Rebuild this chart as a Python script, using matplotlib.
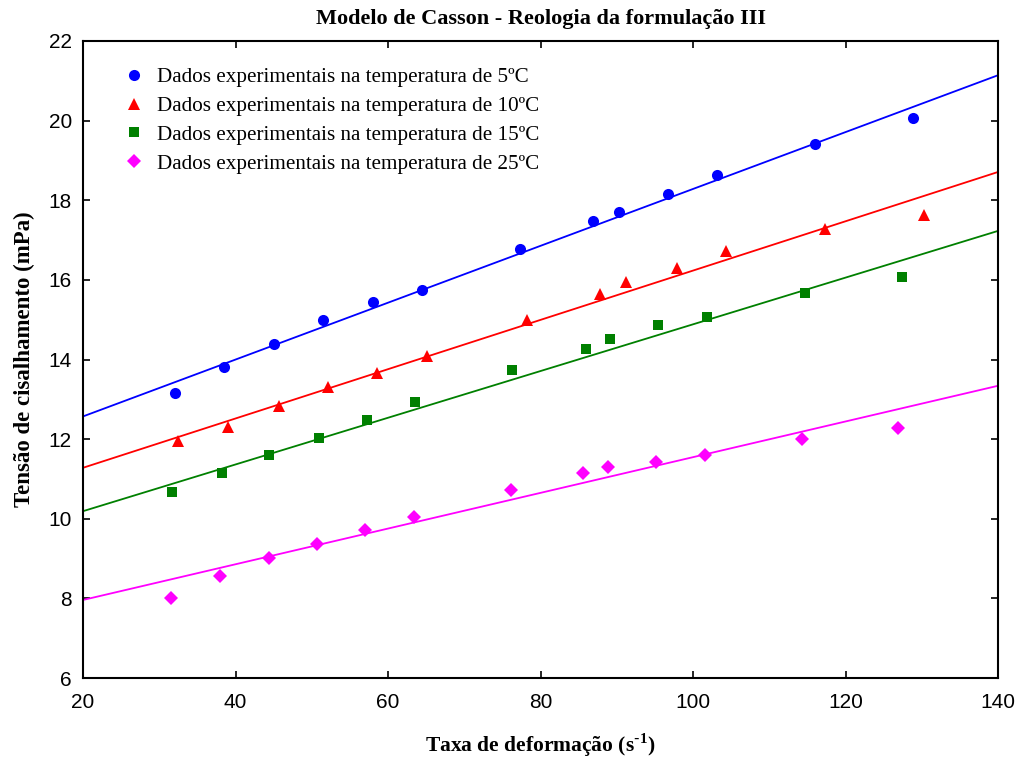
import matplotlib
matplotlib.use("Agg")
import matplotlib.pyplot as plt

# Experimental data (shear rate s^-1, shear stress mPa)
x_5 = [32.1, 38.5, 45.0, 51.5, 58.0, 64.5, 77.3, 86.9, 90.3, 96.7, 103.2, 116.0, 128.9]
y_5 = [13.16, 13.81, 14.39, 14.99, 15.44, 15.75, 16.78, 17.48, 17.70, 18.16, 18.63, 19.41, 20.07]

x_10 = [32.5, 39.0, 45.7, 52.1, 58.6, 65.1, 78.2, 87.8, 91.2, 97.9, 104.3, 117.3, 130.3]
y_10 = [11.95, 12.30, 12.82, 13.32, 13.67, 14.10, 14.98, 15.65, 15.94, 16.30, 16.72, 17.27, 17.64]

x_15 = [31.7, 38.2, 44.4, 51.0, 57.2, 63.5, 76.3, 86.0, 89.1, 95.4, 101.8, 114.7, 127.4]
y_15 = [10.67, 11.15, 11.60, 12.03, 12.48, 12.93, 13.73, 14.26, 14.51, 14.87, 15.07, 15.67, 16.07]

x_25 = [31.5, 38.0, 44.4, 50.7, 57.0, 63.4, 76.1, 85.6, 88.9, 95.2, 101.6, 114.3, 126.9]
y_25 = [8.01, 8.56, 9.01, 9.37, 9.72, 10.04, 10.72, 11.15, 11.30, 11.43, 11.61, 12.00, 12.28]

# Casson model fit lines (values at the ends of the shear-rate range)
fit_x = [20, 140]
fit_5 = [12.57, 21.14]
fit_10 = [11.28, 18.71]
fit_15 = [10.19, 17.23]
fit_25 = [7.96, 13.34]

labels = [
    "Dados experimentais na temperatura de 5ºC",
    "Dados experimentais na temperatura de 10ºC",
    "Dados experimentais na temperatura de 15ºC",
    "Dados experimentais na temperatura de 25ºC",
]
x_ticks = [20, 40, 60, 80, 100, 120, 140]
y_ticks = [6, 8, 10, 12, 14, 16, 18, 20, 22]

serif = "Liberation Serif"
sans = "Liberation Sans"

fig = plt.figure(figsize=(10.22, 7.62), dpi=100)
ax = fig.add_axes([83 / 1022, 1 - 678 / 762, (998 - 83) / 1022, (678 - 41) / 762])

series = [
    (x_5, y_5, fit_5, "#0000ff", "o", 8.0),
    (x_10, y_10, fit_10, "#ff0000", "^", 8.5),
    (x_15, y_15, fit_15, "#008000", "s", 7.8),
    (x_25, y_25, fit_25, "#ff00ff", "D", 7.0),
]
handles = []
for (xs, ys, fy, c, m, ms), lab in zip(series, labels):
    ax.plot(fit_x, fy, color=c, lw=1.3, zorder=2)
    h, = ax.plot(xs, ys, linestyle="none", marker=m, color=c, markersize=ms,
                 markeredgewidth=0, label=lab, zorder=3)
    handles.append(h)

ax.set_xlim(20, 140)
ax.set_ylim(6, 22)
ax.set_xticks(x_ticks)
ax.set_yticks(y_ticks)
ax.tick_params(direction="in", length=5, width=1.2, top=True, right=True,
               labelsize=15)
ax.tick_params(axis="x", pad=11)
ax.tick_params(axis="y", pad=8)
for lab in ax.get_xticklabels() + ax.get_yticklabels():
    lab.set_fontfamily(sans)
for s in ax.spines.values():
    s.set_linewidth(1.5)

ax.set_title("Modelo de Casson - Reologia da formulação III",
             fontfamily=serif, fontweight="bold", fontsize=16, pad=12)
ax.set_xlabel("Taxa de deformação (s$^{\\text{-}\\mathregular{1}}$)",
              fontfamily=serif, fontweight="bold", fontsize=15.5, labelpad=14)
ax.set_ylabel("Tensão de cisalhamento (mPa)",
              fontfamily=serif, fontweight="bold", fontsize=16.5, labelpad=10)

leg = ax.legend(handles=handles, loc="upper left", bbox_to_anchor=(0.035, 0.972),
                frameon=False, prop={"family": serif, "size": 15.2},
                handlelength=1.0, handletextpad=0.6, labelspacing=0.43,
                borderaxespad=0.0)

fig.savefig("out.png", dpi=100)
